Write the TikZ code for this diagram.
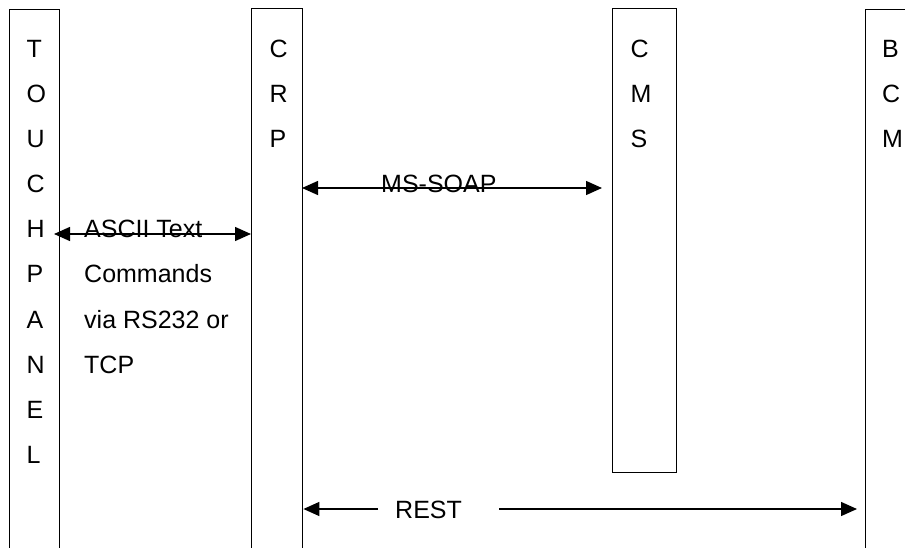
\documentclass[tikz,border=0pt]{standalone}
\usepackage{fontspec}
\setmainfont{Liberation Sans}
\usetikzlibrary{arrows.meta}
\begin{document}
\begin{tikzpicture}[x=1pt,y=-1pt,
  box/.style={draw, line width=1.4pt, rectangle, inner sep=0pt, anchor=north west},
  lbl/.style={font=\fontsize{25}{30}\selectfont, inner sep=0pt, anchor=base west},
  link/.style={line width=1.4pt, {Triangle[length=16pt,width=14pt]}-{Triangle[length=16pt,width=14pt]}},
  oneway/.style={line width=1.4pt, -{Triangle[length=16pt,width=14pt]}},
]
\useasboundingbox (0,0) rectangle (905,548);
\clip (0,0) rectangle (905,548);

% the four components, tall columns running off the bottom
\node[box, minimum width=50pt, minimum height=600pt] (tp) at (9,9) {};
\node[box, minimum width=51pt, minimum height=600pt] (crp) at (251,8) {};
\node[box, minimum width=64pt, minimum height=464pt] (cms) at (612,8) {};
\node[box, minimum width=80pt, minimum height=600pt] (bcm) at (865,9) {};

% vertical captions, one letter per row
\foreach \ch [count=\i from 0] in {T,O,U,C,H,P,A,N,E,L}
  \node[lbl] (tp-\i) at (26.5,58+45*\i) {\ch};
\foreach \ch [count=\i from 0] in {C,R,P}
  \node[lbl] (crp-\i) at (269.5,58+45*\i) {\ch};
\foreach \ch [count=\i from 0] in {C,M,S}
  \node[lbl] (cms-\i) at (630.5,58+45*\i) {\ch};
\foreach \ch [count=\i from 0] in {B,C,M}
  \node[lbl] (bcm-\i) at (882,58+45*\i) {\ch};

% touch panel <-> CRP
\node[lbl] (ascii) at (84,238) {ASCII Text};
\node[lbl] (cmds) at (84,283) {Commands};
\node[lbl] (via) at (84,328) {via RS232 or};
\node[lbl] (tcp) at (84,373) {TCP};
\coordinate (asciiL) at (54,234);
\draw[link] (asciiL) -- (crp.west |- asciiL);

% CRP <-> CMS
\node[lbl] (soap) at (381,193) {MS-SOAP};
\coordinate (soapL) at (302,188);
\coordinate (soapR) at (602,188);
\draw[link] (soapL) -- (soapR);

% CRP <-> BCM
\node[lbl] (rest) at (395,518) {REST};
\coordinate (restL) at (378,509);
\coordinate (restR) at (499,509);
\coordinate (restEnd) at (857,509);
\draw[oneway] (restL) -- (crp.east |- restL);
\draw[oneway] (restR) -- (restEnd);
\end{tikzpicture}
\end{document}
